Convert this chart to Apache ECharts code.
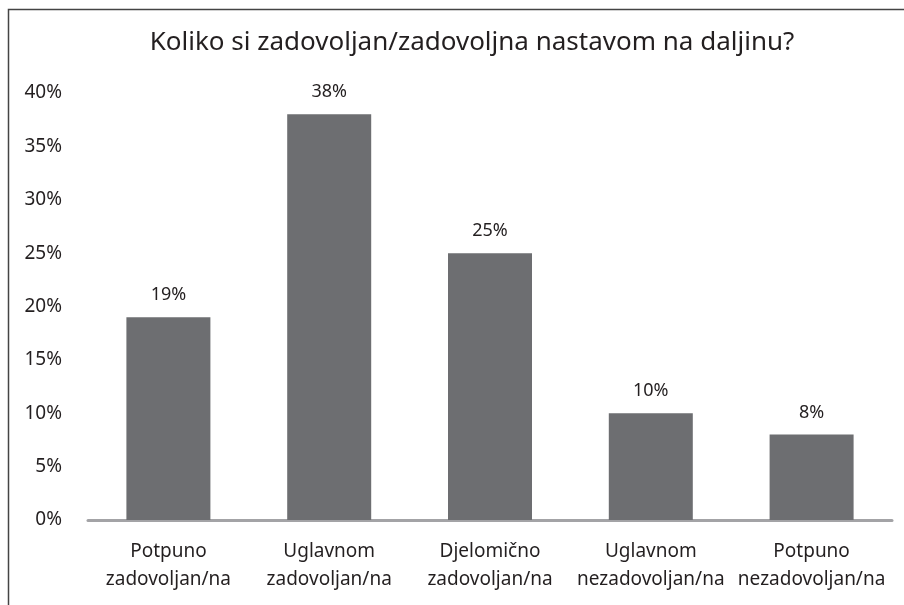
<!DOCTYPE html>
<html>
<head>
<meta charset="utf-8">
<script src="https://cdn.jsdelivr.net/npm/echarts@6/dist/echarts.min.js"></script>
<style>
  html, body { margin: 0; padding: 0; background: #fff; }
  #chart { width: 904px; height: 605px; }
</style>
</head>
<body>
<div id="chart"></div>
<script>
const title = 'Koliko si zadovoljan/zadovoljna nastavom na daljinu?'
const categories = [
  'Potpuno\nzadovoljan/na',
  'Uglavnom\nzadovoljan/na',
  'Djelomično\nzadovoljan/na',
  'Uglavnom\nnezadovoljan/na',
  'Potpuno\nnezadovoljan/na'
]
const values = [19, 38, 25, 10, 8]

const font = 'Noto Sans'
const textColor = '#231f20'

const chart = echarts.init(document.getElementById('chart'))

chart.setOption({
  animation: false,
  backgroundColor: '#fff',
  title: {
    text: title,
    left: 467,
    top: 25,
    textAlign: 'center',
    textStyle: {
      fontFamily: font,
      fontSize: 26,
      fontWeight: 'normal',
      color: textColor
    }
  },
  graphic: [
    {
      type: 'rect',
      shape: { x: 8.5, y: 9.5, width: 1000, height: 1000 },
      style: { fill: 'none', stroke: '#444', lineWidth: 1.5 }
    }
  ],
  grid: {
    left: 88,
    right: 12,
    top: 93,
    bottom: 85
  },
  xAxis: {
    type: 'category',
    data: categories,
    axisTick: { show: false },
    axisLine: { lineStyle: { color: '#a3a3a6', width: 3 } },
    axisLabel: {
      margin: 18,
      fontFamily: font,
      fontSize: 19,
      lineHeight: 28,
      color: textColor,
      interval: 0
    }
  },
  yAxis: {
    type: 'value',
    min: 0,
    max: 40,
    interval: 5,
    splitLine: { show: false },
    axisLine: { show: false },
    axisTick: { show: false },
    axisLabel: {
      margin: 26,
      fontFamily: font,
      fontSize: 19,
      color: textColor,
      formatter: '{value}%'
    }
  },
  series: [
    {
      type: 'bar',
      data: values,
      barWidth: 84,
      itemStyle: { color: '#6d6e71' },
      label: {
        show: true,
        position: 'top',
        distance: 13,
        fontFamily: font,
        fontSize: 18,
        color: textColor,
        formatter: '{c}%'
      }
    }
  ]
})
</script>
</body>
</html>
